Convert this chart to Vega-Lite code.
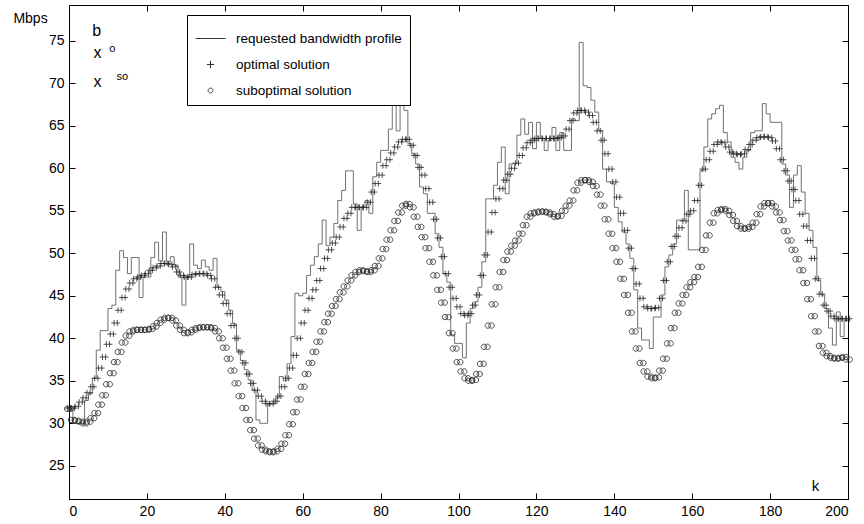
{
"$schema": "https://vega.github.io/schema/vega-lite/v6.json",
"width": 779, "height": 494,
"autosize": {"type": "none"},
"padding": {"left": 69, "top": 5, "right": 16, "bottom": 25},
"background": "white",
"config": {"font": "Liberation Sans", "view": {"stroke": "#000", "strokeWidth": 1},
 "axis": {"grid": false, "domainColor": "#000", "tickColor": "#000", "labelColor": "#000", "labelFontSize": 14, "titleColor": "#000", "titleFontWeight": "normal", "tickSize": -6, "labelPadding": 11}},
"data": {"values": [
{"k":0,"b":31.6,"o":31.8,"s":31.7},{"k":1,"b":30.0,"o":31.8,"s":30.4},{"k":2,"b":30.0,"o":32.0,"s":30.3},{"k":3,"b":30.0,"o":32.5,"s":30.2},{"k":4,"b":32.7,"o":33.0,"s":30.0},
{"k":5,"b":33.5,"o":33.6,"s":30.2},{"k":6,"b":35.3,"o":34.3,"s":30.6},{"k":7,"b":38.6,"o":35.3,"s":31.2},{"k":8,"b":40.9,"o":36.5,"s":32.2},{"k":9,"b":40.9,"o":37.8,"s":33.3},
{"k":10,"b":43.5,"o":39.3,"s":34.6},{"k":11,"b":43.9,"o":40.5,"s":35.9},{"k":12,"b":48.0,"o":41.8,"s":37.2},{"k":13,"b":50.3,"o":43.3,"s":38.4},{"k":14,"b":49.5,"o":44.8,"s":39.5},
{"k":15,"b":47.6,"o":45.8,"s":40.3},{"k":16,"b":49.5,"o":46.5,"s":40.8},{"k":17,"b":49.5,"o":47.0,"s":41.0},{"k":18,"b":44.8,"o":47.2,"s":41.0},{"k":19,"b":47.2,"o":47.4,"s":41.0},
{"k":20,"b":47.2,"o":47.6,"s":41.0},{"k":21,"b":49.5,"o":48.0,"s":41.1},{"k":22,"b":51.3,"o":48.3,"s":41.4},{"k":23,"b":49.1,"o":48.5,"s":41.8},{"k":24,"b":52.5,"o":48.8,"s":42.2},
{"k":25,"b":49.0,"o":48.8,"s":42.4},{"k":26,"b":49.6,"o":48.7,"s":42.4},{"k":27,"b":48.6,"o":48.4,"s":42.1},{"k":28,"b":47.2,"o":47.8,"s":41.5},{"k":29,"b":43.9,"o":47.4,"s":41.0},
{"k":30,"b":47.2,"o":47.2,"s":40.6},{"k":31,"b":51.1,"o":47.2,"s":40.7},{"k":32,"b":48.6,"o":47.5,"s":41.0},{"k":33,"b":48.2,"o":47.6,"s":41.2},{"k":34,"b":49.2,"o":47.6,"s":41.3},
{"k":35,"b":48.4,"o":47.6,"s":41.3},{"k":36,"b":48.0,"o":47.4,"s":41.3},{"k":37,"b":49.4,"o":47.0,"s":41.2},{"k":38,"b":46.0,"o":46.0,"s":40.8},{"k":39,"b":45.5,"o":45.1,"s":40.0},
{"k":40,"b":44.5,"o":44.1,"s":38.9},{"k":41,"b":43.3,"o":42.9,"s":37.6},{"k":42,"b":41.7,"o":41.5,"s":36.2},{"k":43,"b":38.6,"o":40.0,"s":34.7},{"k":44,"b":37.4,"o":38.4,"s":33.2},
{"k":45,"b":36.3,"o":37.1,"s":31.8},{"k":46,"b":35.1,"o":35.8,"s":30.4},{"k":47,"b":33.9,"o":34.7,"s":29.2},{"k":48,"b":30.4,"o":33.9,"s":28.2},{"k":49,"b":30.0,"o":33.2,"s":27.4},
{"k":50,"b":30.0,"o":32.6,"s":26.9},{"k":51,"b":32.3,"o":32.3,"s":26.7},{"k":52,"b":32.3,"o":32.3,"s":26.6},{"k":53,"b":33.0,"o":32.6,"s":26.7},{"k":54,"b":35.5,"o":33.2,"s":27.0},
{"k":55,"b":35.0,"o":34.3,"s":27.6},{"k":56,"b":37.0,"o":35.3,"s":28.6},{"k":57,"b":40.2,"o":36.5,"s":29.9},{"k":58,"b":45.3,"o":38.0,"s":31.3},{"k":59,"b":45.0,"o":40.0,"s":32.8},
{"k":60,"b":45.3,"o":41.8,"s":34.3},{"k":61,"b":47.4,"o":43.3,"s":35.8},{"k":62,"b":48.6,"o":44.7,"s":37.1},{"k":63,"b":49.6,"o":45.7,"s":38.4},{"k":64,"b":51.1,"o":46.8,"s":39.6},
{"k":65,"b":53.9,"o":48.2,"s":40.8},{"k":66,"b":50.9,"o":49.4,"s":41.9},{"k":67,"b":51.9,"o":50.4,"s":42.9},{"k":68,"b":53.5,"o":51.2,"s":43.8},{"k":69,"b":56.2,"o":51.9,"s":44.6},
{"k":70,"b":57.4,"o":53.1,"s":45.4},{"k":71,"b":59.7,"o":54.1,"s":46.1},{"k":72,"b":59.7,"o":54.7,"s":46.8},{"k":73,"b":55.8,"o":55.4,"s":47.4},{"k":74,"b":52.7,"o":55.4,"s":47.8},
{"k":75,"b":55.4,"o":55.4,"s":48.0},{"k":76,"b":56.2,"o":55.4,"s":47.9},{"k":77,"b":54.7,"o":56.0,"s":47.8},{"k":78,"b":59.0,"o":57.2,"s":48.0},{"k":79,"b":60.7,"o":58.2,"s":48.5},
{"k":80,"b":62.1,"o":59.2,"s":49.4},{"k":81,"b":62.1,"o":60.3,"s":50.5},{"k":82,"b":64.6,"o":61.0,"s":51.6},{"k":83,"b":67.6,"o":61.8,"s":52.7},{"k":84,"b":64.4,"o":62.5,"s":53.8},
{"k":85,"b":68.2,"o":63.1,"s":54.8},{"k":86,"b":66.8,"o":63.4,"s":55.6},{"k":87,"b":62.9,"o":63.4,"s":55.8},{"k":88,"b":61.7,"o":62.7,"s":55.4},{"k":89,"b":60.5,"o":61.5,"s":54.3},
{"k":90,"b":57.8,"o":60.1,"s":53.1},{"k":91,"b":57.0,"o":59.2,"s":51.9},{"k":92,"b":54.7,"o":57.6,"s":50.6},{"k":93,"b":54.7,"o":56.0,"s":49.0},{"k":94,"b":52.3,"o":54.0,"s":47.4},
{"k":95,"b":50.7,"o":51.8,"s":45.7},{"k":96,"b":47.6,"o":49.6,"s":44.2},{"k":97,"b":46.6,"o":47.6,"s":42.5},{"k":98,"b":40.4,"o":46.0,"s":40.6},{"k":99,"b":39.4,"o":44.7,"s":38.8},
{"k":100,"b":39.4,"o":43.7,"s":37.2},{"k":101,"b":37.7,"o":42.9,"s":36.1},{"k":102,"b":41.8,"o":42.7,"s":35.3},{"k":103,"b":43.5,"o":42.9,"s":35.0},{"k":104,"b":44.3,"o":43.9,"s":35.1},
{"k":105,"b":46.0,"o":45.1,"s":35.8},{"k":106,"b":49.0,"o":47.4,"s":37.0},{"k":107,"b":56.4,"o":49.8,"s":39.0},{"k":108,"b":56.4,"o":52.5,"s":41.5},{"k":109,"b":58.0,"o":54.8,"s":44.0},
{"k":110,"b":60.7,"o":56.4,"s":46.0},{"k":111,"b":62.5,"o":57.6,"s":47.8},{"k":112,"b":57.0,"o":58.6,"s":49.2},{"k":113,"b":60.5,"o":59.3,"s":50.2},{"k":114,"b":60.5,"o":60.0,"s":50.9},
{"k":115,"b":63.9,"o":60.6,"s":51.5},{"k":116,"b":65.8,"o":61.5,"s":52.3},{"k":117,"b":64.0,"o":62.4,"s":53.3},{"k":118,"b":65.4,"o":63.0,"s":54.3},{"k":119,"b":62.3,"o":63.3,"s":54.7},
{"k":120,"b":65.4,"o":63.5,"s":54.8},{"k":121,"b":63.5,"o":63.5,"s":54.9},{"k":122,"b":62.1,"o":63.5,"s":54.9},{"k":123,"b":63.3,"o":63.5,"s":54.8},{"k":124,"b":64.8,"o":63.5,"s":54.6},
{"k":125,"b":62.1,"o":63.5,"s":54.3},{"k":126,"b":64.2,"o":63.6,"s":54.4},{"k":127,"b":62.1,"o":63.8,"s":55.0},{"k":128,"b":62.1,"o":64.6,"s":55.6},{"k":129,"b":65.8,"o":65.6,"s":56.2},
{"k":130,"b":65.6,"o":66.5,"s":57.4},{"k":131,"b":74.8,"o":66.8,"s":58.3},{"k":132,"b":69.7,"o":66.8,"s":58.6},{"k":133,"b":69.5,"o":66.6,"s":58.6},{"k":134,"b":68.0,"o":66.2,"s":58.4},
{"k":135,"b":66.6,"o":65.4,"s":57.9},{"k":136,"b":64.4,"o":64.4,"s":56.9},{"k":137,"b":59.9,"o":63.3,"s":55.6},{"k":138,"b":58.4,"o":61.7,"s":54.0},{"k":139,"b":58.2,"o":59.9,"s":52.3},
{"k":140,"b":55.4,"o":58.4,"s":50.6},{"k":141,"b":53.7,"o":56.6,"s":49.0},{"k":142,"b":52.5,"o":54.7,"s":47.0},{"k":143,"b":51.1,"o":52.7,"s":45.1},{"k":144,"b":49.4,"o":50.6,"s":43.0},
{"k":145,"b":45.7,"o":48.2,"s":40.8},{"k":146,"b":41.2,"o":46.4,"s":38.8},{"k":147,"b":39.8,"o":44.7,"s":37.1},{"k":148,"b":39.8,"o":43.7,"s":36.1},{"k":149,"b":38.8,"o":43.5,"s":35.5},
{"k":150,"b":42.5,"o":43.5,"s":35.3},{"k":151,"b":42.5,"o":43.6,"s":35.4},{"k":152,"b":45.1,"o":44.7,"s":36.2},{"k":153,"b":48.4,"o":46.8,"s":37.6},{"k":154,"b":49.8,"o":49.0,"s":39.4},
{"k":155,"b":51.1,"o":50.8,"s":41.2},{"k":156,"b":53.9,"o":52.0,"s":43.0},{"k":157,"b":53.9,"o":53.0,"s":44.1},{"k":158,"b":57.4,"o":53.8,"s":45.1},{"k":159,"b":50.4,"o":54.6,"s":46.0},
{"k":160,"b":50.4,"o":55.0,"s":46.6},{"k":161,"b":50.4,"o":56.2,"s":47.2},{"k":162,"b":59.7,"o":58.0,"s":48.4},{"k":163,"b":62.5,"o":59.9,"s":50.4},{"k":164,"b":65.8,"o":61.0,"s":52.1},
{"k":165,"b":66.4,"o":62.0,"s":53.6},{"k":166,"b":67.0,"o":62.8,"s":54.7},{"k":167,"b":67.4,"o":63.1,"s":55.1},{"k":168,"b":64.2,"o":63.0,"s":55.2},{"k":169,"b":63.1,"o":62.5,"s":55.0},
{"k":170,"b":61.3,"o":61.9,"s":54.5},{"k":171,"b":60.7,"o":61.7,"s":53.8},{"k":172,"b":59.9,"o":61.6,"s":53.2},{"k":173,"b":61.3,"o":61.7,"s":52.9},{"k":174,"b":62.1,"o":62.2,"s":52.9},
{"k":175,"b":64.2,"o":62.8,"s":53.1},{"k":176,"b":64.4,"o":63.3,"s":53.6},{"k":177,"b":64.4,"o":63.6,"s":54.6},{"k":178,"b":67.6,"o":63.7,"s":55.5},{"k":179,"b":66.4,"o":63.7,"s":55.9},
{"k":180,"b":65.4,"o":63.6,"s":55.9},{"k":181,"b":65.4,"o":63.2,"s":55.5},{"k":182,"b":65.4,"o":62.3,"s":54.8},{"k":183,"b":60.5,"o":61.0,"s":53.9},{"k":184,"b":59.2,"o":59.7,"s":52.6},
{"k":185,"b":55.4,"o":58.5,"s":51.5},{"k":186,"b":59.2,"o":57.5,"s":50.4},{"k":187,"b":60.3,"o":56.2,"s":49.3},{"k":188,"b":57.2,"o":54.6,"s":48.0},{"k":189,"b":54.7,"o":53.2,"s":46.5},
{"k":190,"b":52.7,"o":51.5,"s":44.6},{"k":191,"b":50.7,"o":49.4,"s":42.6},{"k":192,"b":46.8,"o":47.0,"s":40.8},{"k":193,"b":45.1,"o":45.2,"s":39.1},{"k":194,"b":43.5,"o":43.9,"s":38.3},
{"k":195,"b":41.2,"o":43.2,"s":37.9},{"k":196,"b":39.2,"o":42.6,"s":37.7},{"k":197,"b":43.1,"o":42.3,"s":37.6},{"k":198,"b":40.2,"o":42.3,"s":37.7},{"k":199,"b":42.1,"o":42.3,"s":37.8},
{"k":200,"b":42.1,"o":42.3,"s":37.5}
]},
"resolve": {"axis": {"x": "independent", "y": "independent"}, "scale": {"shape": "independent"}},
"layer": [
 {"mark": {"type": "line", "interpolate": "step-after", "color": "#707070", "strokeWidth": 1},
  "encoding": {
   "x": {"field": "k", "type": "quantitative", "scale": {"domain": [0, 200], "nice": false},
    "axis": {"values": [0,20,40,60,80,100,120,140,160,180,200], "title": "k", "titleX": 746, "titleY": -9, "titleFontSize": 15, "titleAlign": "center", "titleBaseline": "alphabetic"}},
   "y": {"field": "b", "type": "quantitative", "scale": {"domain": [21.1, 79.2], "nice": false, "zero": false},
    "axis": {"values": [25,30,35,40,45,50,55,60,65,70,75], "title": "Mbps", "titleAngle": 0, "titleX": -39, "titleY": 17, "titleAlign": "center", "titleBaseline": "alphabetic", "titleFontSize": 14}}
  }},
 {"transform": [{"fold": ["o", "s"], "as": ["series", "val"]}],
  "mark": {"type": "point", "filled": false, "color": "#222", "strokeWidth": 0.8, "size": 81, "opacity": 1},
  "encoding": {
   "x": {"field": "k", "type": "quantitative", "scale": {"domain": [0, 200], "nice": false},
    "axis": {"orient": "top", "labels": false, "title": null, "values": [0,20,40,60,80,100,120,140,160,180,200]}},
   "y": {"field": "val", "type": "quantitative", "scale": {"domain": [21.1, 79.2], "nice": false, "zero": false},
    "axis": {"orient": "right", "labels": false, "title": null, "values": [25,30,35,40,45,50,55,60,65,70,75]}},
   "shape": {"field": "series", "type": "nominal", "legend": null,
    "scale": {"domain": ["o", "s"], "range": ["M-1,0H1M-0.35,-0.65V0.65M0.35,-0.65V0.65", "M0.2,0A0.6,0.6,0,1,0,-1,0A0.6,0.6,0,1,0,0.2,0ZM1,0A0.6,0.6,0,1,0,-0.2,0A0.6,0.6,0,1,0,1,0Z"]}}
  }},
 {"data": {"values": []},
  "mark": {"type": "point", "filled": false, "strokeWidth": 1, "opacity": 1, "color": "#333"},
  "encoding": {
   "shape": {"field": "series", "type": "nominal",
    "scale": {"domain": ["b", "o", "s"], "range": ["M-1,0H1", "M-0.24,0H0.24M0,-0.24V0.24", "M0.16,0A0.16,0.16,0,1,1,-0.16,0A0.16,0.16,0,1,1,0.16,0Z"]},
    "legend": {"orient": "none", "legendX": 118, "legendY": 10, "title": null, "strokeColor": "#000", "fillColor": "#fff", "padding": 8, "symbolSize": 900, "labelOffset": 10, "rowPadding": 4, "labelFontSize": 13.5, "labelColor": "#000", "labelLimit": 400, "symbolStrokeWidth": 1,
     "labelExpr": "datum.value === 'b' ? 'requested bandwidth profile' : datum.value === 'o' ? 'optimal solution' : 'suboptimal solution'"}}
  }},
 {"data": {"values": [{"k": 7.1, "v": 75.6, "t": "b"}, {"k": 7.3, "v": 73.0, "t": "x"}, {"k": 7.3, "v": 69.6, "t": "x"}]},
  "mark": {"type": "text", "fontSize": 16, "align": "center", "baseline": "alphabetic", "color": "#000"},
  "encoding": {
   "x": {"field": "k", "type": "quantitative", "scale": {"domain": [0, 200], "nice": false}, "axis": null},
   "y": {"field": "v", "type": "quantitative", "scale": {"domain": [21.1, 79.2], "nice": false, "zero": false}, "axis": null},
   "text": {"field": "t"}}},
 {"data": {"values": [{"k": 11.1, "v": 73.7, "t": "o"}, {"k": 13.7, "v": 70.35, "t": "so"}]},
  "mark": {"type": "text", "fontSize": 11, "align": "center", "baseline": "alphabetic", "color": "#000"},
  "encoding": {
   "x": {"field": "k", "type": "quantitative", "scale": {"domain": [0, 200], "nice": false}, "axis": null},
   "y": {"field": "v", "type": "quantitative", "scale": {"domain": [21.1, 79.2], "nice": false, "zero": false}, "axis": null},
   "text": {"field": "t"}}}
]
}
